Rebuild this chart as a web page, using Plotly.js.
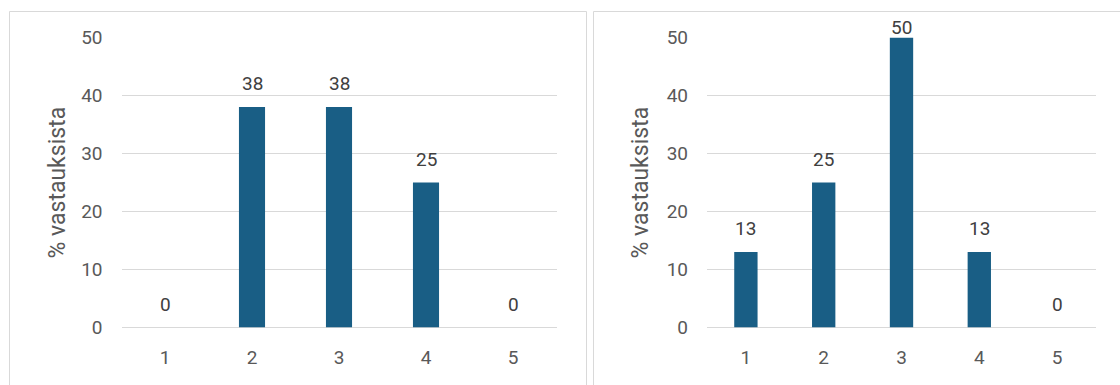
<!DOCTYPE html>
<html>
<head>
<meta charset="utf-8">
<script src="https://cdn.plot.ly/plotly-3.0.1.min.js"></script>
<style>
html, body { margin: 0; padding: 0; background: #ffffff; }
#chart { width: 1120px; height: 385px; }
</style>
</head>
<body>
<div id="chart"></div>
<script>
// ---- data ----
const categories = [1, 2, 3, 4, 5];
const leftValues = [0, 38, 38, 25, 0];
const rightValues = [13, 25, 50, 13, 0];
const yTitle = "% vastauksista";
const yTickVals = [0, 10, 20, 30, 40, 50];

// ---- style ----
const W = 1120, H = 385;
const barColor = "#195e85";
const tickColor = "#595959";
const labelColor = "#404040";
const gridColor = "#d9d9d9";
const fontFamily = "Roboto, 'Open Sans', sans-serif";

function px(x) { return x / W; }
function py(y) { return (H - y) / H; }

const plotTop = 37.5, plotBottom = 327.5;

const traces = [
  { type: "bar", x: categories, y: leftValues, xaxis: "x", yaxis: "y",
    marker: { color: barColor }, width: 0.3, hoverinfo: "none" },
  { type: "bar", x: categories, y: rightValues, xaxis: "x2", yaxis: "y2",
    marker: { color: barColor }, width: 0.3, hoverinfo: "none" }
];

function xaxisDef(domain) {
  return {
    domain: domain, range: [0.5, 5.5], tickvals: categories, ticktext: categories.map(String),
    showgrid: false, zeroline: false, showline: false, ticks: "",
    ticklabelstandoff: 16,
    tickfont: { family: fontFamily, size: 19, color: tickColor }, fixedrange: true
  };
}
function yaxisDef(anchor) {
  return {
    anchor: anchor, domain: [py(plotBottom), py(plotTop)], range: [0, 50],
    tickvals: yTickVals, showgrid: true, gridcolor: gridColor, gridwidth: 1,
    zeroline: true, zerolinecolor: gridColor, zerolinewidth: 1, showline: false, ticks: "",
    ticklabelstandoff: 18,
    tickfont: { family: fontFamily, size: 19, color: tickColor }, fixedrange: true
  };
}

const annotations = [];
function addLabels(vals, xref, yref) {
  vals.forEach((v, i) => {
    annotations.push({
      x: categories[i], y: v, xref: xref, yref: yref, text: String(v),
      showarrow: false, yanchor: "bottom", xanchor: "center",
      yshift: v >= 50 ? -4 : 10,
      font: { family: fontFamily, size: 19, color: labelColor }
    });
  });
}
addLabels(leftValues, "x", "y");
addLabels(rightValues, "x2", "y2");

// y-axis titles
[57, 640].forEach(cx => {
  annotations.push({
    x: px(cx), y: py((plotTop + plotBottom) / 2), xref: "paper", yref: "paper",
    text: yTitle, textangle: -90, showarrow: false, xanchor: "center", yanchor: "middle",
    font: { family: fontFamily, size: 23, color: tickColor }
  });
});

const borderLine = { color: gridColor, width: 1 };
const shapes = [
  { type: "rect", xref: "paper", yref: "paper", x0: px(9.5), x1: px(586.5), y0: -0.2, y1: py(11.5), line: borderLine, layer: "below" },
  { type: "rect", xref: "paper", yref: "paper", x0: px(593.5), x1: 1.2, y0: -0.2, y1: py(11.5), line: borderLine, layer: "below" }
];

const layout = {
  width: W, height: H,
  margin: { l: 0, r: 0, t: 0, b: 0 },
  paper_bgcolor: "#ffffff", plot_bgcolor: "rgba(0,0,0,0)",
  showlegend: false,
  bargap: 0.7,
  xaxis: xaxisDef([px(121.5), px(556.5)]),
  yaxis: yaxisDef("x"),
  xaxis2: xaxisDef([px(707), px(1096)]),
  yaxis2: yaxisDef("x2"),
  annotations: annotations,
  shapes: shapes,
  font: { family: fontFamily }
};

Plotly.newPlot("chart", traces, layout, { staticPlot: true, displayModeBar: false });
</script>
</body>
</html>
